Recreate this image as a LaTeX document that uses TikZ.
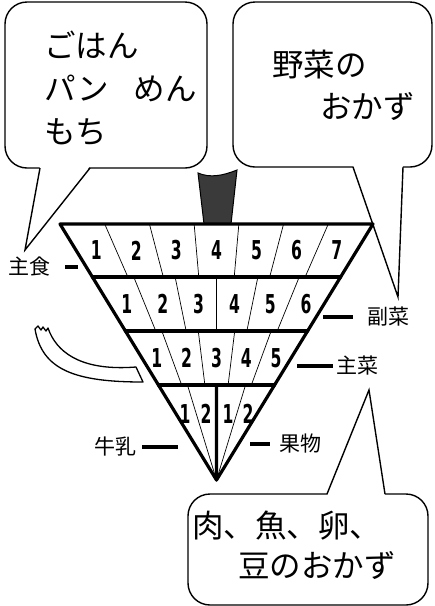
\documentclass[tikz,border=0pt]{standalone}
\usepackage{fontspec}
\newfontfamily\jp{Noto Sans CJK JP}
\newfontfamily\numfont[FakeStretch=0.6]{DejaVu Sans}
\usepackage{xcolor}
\definecolor{stemgray}{RGB}{58,58,58}
\usetikzlibrary{calc}

\tikzset{
  bubble/.style={draw=black, line width=1.4pt, fill=white, rounded corners=22pt},
  tail/.style={draw=black, line width=1.4pt},
  talk/.style={font=\jp\fontsize{31.5}{32}\selectfont, inner sep=0pt, anchor=base west},
  group/.style={font=\jp\fontsize{21}{21}\selectfont, inner sep=0pt},
  groupbar/.style={draw=black, line width=3.6pt},
  edge/.style={line width=3.2pt, line join=round, line cap=round},
  divider/.style={line width=0.7pt},
  num/.style={font=\numfont\bfseries\fontsize{26}{26}\selectfont, inner sep=0pt},
}

\begin{document}
\begin{tikzpicture}[x=1pt, y=-1pt]
  \fill[white] (0,0) rectangle (435,606);
  \useasboundingbox (0,0) rectangle (435,606);

  % speech bubbles
  \draw[bubble] (5,2) rectangle (207,168);
  \coordinate (ta1) at (40,168);  \coordinate (tb1) at (90,168);  \coordinate (tip1) at (25,250);
  \fill[white] ($(ta1)+(0,-2)$) -- (tip1) -- ($(tb1)+(0,-2)$) -- cycle;
  \draw[tail] (ta1) -- (tip1) -- (tb1);

  \draw[bubble] (233,2) rectangle (432,167);
  \coordinate (ta2) at (353,167); \coordinate (tb2) at (403,167); \coordinate (tip2) at (398,297);
  \fill[white] ($(ta2)+(0,-2)$) -- (tip2) -- ($(tb2)+(0,-2)$) -- cycle;
  \draw[tail] (ta2) -- (tip2) -- (tb2);

  \draw[bubble] (188,494) rectangle (428,605);
  \coordinate (ta3) at (327,494); \coordinate (tb3) at (385,494); \coordinate (tip3) at (369,390);
  \fill[white] ($(ta3)+(0,2)$) -- (tip3) -- ($(tb3)+(0,2)$) -- cycle;
  \draw[tail] (ta3) -- (tip3) -- (tb3);

  \node[talk] (rice)  at (44,57)   {ごはん};
  \node[talk] (bread) at (44,100)  {パン\hspace{25pt}めん};
  \node[talk] (mochi) at (44,143)  {もち};
  \node[talk] (veg)   at (272,76)  {野菜の};
  \node[talk] (vegb)  at (320,118) {おかず};
  \node[talk] (meat)  at (192,537) {肉、魚、卵、};
  \node[talk] (bean)  at (238,577) {豆のおかず};

  % rope
  \draw[line width=1.3pt, fill=white, line join=round]
    (35,329) .. controls (42,370) and (75,382) .. (143,382) -- (136,367)
    .. controls (85,371) and (60,355) .. (50,333)
    -- (48,328) -- (46,331) -- (43,327) -- (41,330) -- (38,326) -- cycle;

  % stem
  \filldraw[fill=stemgray, draw=black, line width=1pt]
    (198,173) .. controls (210,178) and (222,176) .. (237,170) -- (231,224) -- (204,224) -- cycle;

  % top body
  \coordinate (l0) at (60,224);
  \coordinate (r0) at (373,224);
  \coordinate (tip) at (216.5,480);
  \coordinate (l1) at ($(l0)!0.207!(tip)$);  \coordinate (r1) at ($(r0)!0.207!(tip)$);
  \coordinate (l2) at ($(l0)!0.418!(tip)$);  \coordinate (r2) at ($(r0)!0.418!(tip)$);
  \coordinate (l3) at ($(l0)!0.629!(tip)$);  \coordinate (r3) at ($(r0)!0.629!(tip)$);

  \foreach \n/\a/\b in {7/0/1, 6/1/2, 5/2/3} {
    \pgfmathtruncatemacro\m{\n-1}
    \foreach \k in {1,...,\m}
      \draw[divider] ($(l\a)!{\k/\n}!(r\a)$) -- ($(l\b)!{\k/\n}!(r\b)$);
    \foreach \k in {1,...,\n}
      \node[num] (n\a-\k) at ($($(l\a)!{(\k-0.5)/\n}!(r\a)$)!0.5!($(l\b)!{(\k-0.5)/\n}!(r\b)$)$) {\k};
  }
  \draw[divider] ($(l3)!0.25!(r3)$) -- (tip);
  \draw[divider] ($(l3)!0.75!(r3)$) -- (tip);
  \node[num] (m1) at (185,414) {1};
  \node[num] (m2) at (206,414) {2};
  \node[num] (f1) at (228,414) {1};
  \node[num] (f2) at (248,414) {2};

  \draw[edge] (l0) -- (r0) -- (tip) -- cycle;
  \draw[edge] (l1) -- (r1);
  \draw[edge] (l2) -- (r2);
  \draw[edge] (l3) -- (r3);
  \draw[edge] ($(l3)!0.5!(r3)$) -- (tip);

  % group labels
  \node[group] (staple) at (30,267)  {主食};
  \node[group] (side)   at (388,317) {副菜};
  \node[group] (main)   at (357,366) {主菜};
  \node[group] (milk)   at (115,447) {牛乳};
  \node[group] (fruit)  at (300,444) {果物};
  \draw[groupbar] ([xshift=14pt]staple.east) -- ++(13,0);
  \draw[groupbar] ([xshift=-14pt]side.west) -- ++(-30,0);
  \draw[groupbar] ([xshift=-3pt]main.west) -- ++(-36,0);
  \draw[groupbar, line width=3.2pt] ([xshift=6pt]milk.east) -- ++(36,0);
  \draw[groupbar, line width=3.2pt] ([xshift=-9pt]fruit.west) -- ++(-20,0);
\end{tikzpicture}
\end{document}
